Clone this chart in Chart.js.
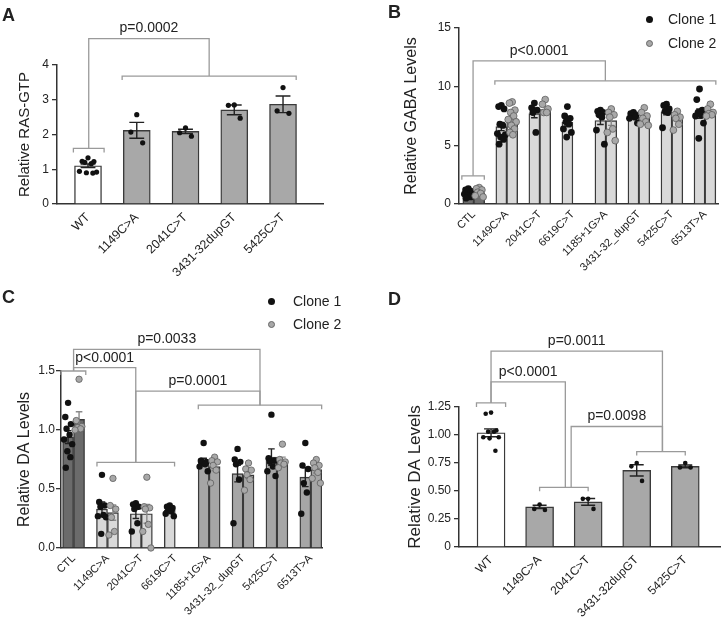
<!DOCTYPE html>
<html>
<head>
<meta charset="utf-8">
<script src="https://cdn.jsdelivr.net/npm/chart.js@4.4.0/dist/chart.umd.min.js"></script>
<style>
  html, body { margin: 0; padding: 0; background: #fff; }
  body { width: 723px; height: 623px; position: relative; overflow: hidden;
         font-family: "Liberation Sans", Arial, sans-serif; color: #222; }
  canvas { position: absolute; }
  .letter { position: absolute; font-weight: bold; font-size: 18px; line-height: 1; }
  .lg { position: absolute; height: 14px; display: flex; align-items: center; font-size: 14px; }
  .dot { width: 7px; height: 7px; border-radius: 50%; box-sizing: border-box; }
</style>
</head>
<body>
<canvas id="cA" width="362" height="300" style="left:0;top:0"></canvas>
<canvas id="cB" width="361" height="300" style="left:362px;top:0"></canvas>
<canvas id="cC" width="362" height="323" style="left:0;top:300px"></canvas>
<canvas id="cD" width="361" height="323" style="left:362px;top:300px"></canvas>

<div class="letter" style="left:2px;top:6px">A</div>
<div class="letter" style="left:388px;top:3px">B</div>
<div class="letter" style="left:2px;top:288px">C</div>
<div class="letter" style="left:388px;top:290px">D</div>

<div class="lg" style="left:646px;top:12px"><span class="dot" style="background:#111"></span><span style="margin-left:15px">Clone 1</span></div>
<div class="lg" style="left:646px;top:36px"><span class="dot" style="background:#a8a8a8;border:1px solid #666"></span><span style="margin-left:15px">Clone 2</span></div>
<div class="lg" style="left:268px;top:294px"><span class="dot" style="background:#111"></span><span style="margin-left:18px">Clone 1</span></div>
<div class="lg" style="left:268px;top:317px"><span class="dot" style="background:#a8a8a8;border:1px solid #666"></span><span style="margin-left:18px">Clone 2</span></div>

<script>
// ---- data ----

// A: RAS-GTP
const catsA = ['WT', '1149C>A', '2041C>T', '3431-32dupGT', '5425C>T'];
const meanA = [1.10, 2.12, 2.09, 2.71, 2.87];
const semA = [0.05, 0.23, 0.06, 0.14, 0.24];
const ptsA = [
  [1.33, 1.23, 1.22, 1.20, 1.16, 0.94, 0.92, 0.90, 0.89],
  [2.57, 2.07, 1.76],
  [2.19, 2.05, 1.95],
  [2.85, 2.84, 2.47],
  [3.35, 2.68, 2.61]
];
const yTicksA = [0, 1, 2, 3, 4];
const yLabelsA = ['0', '1', '2', '3', '4'];

// B: GABA, two clones
const catsB = ['CTL', '1149C>A', '2041C>T', '6619C>T', '1185+1G>A', '3431-32_dupGT', '5425C>T', '6513T>A'];
const meanB1 = [0.90, 6.60, 7.70, 6.95, 7.12, 7.50, 7.85, 7.70];
const semB1 = [0.08, 0.35, 0.35, 0.30, 0.35, 0.12, 0.25, 0.40];
const meanB2 = [0.95, 7.25, 8.05, null, 7.10, 7.40, 7.45, 7.85];
const semB2 = [0.10, 0.30, 0.25, null, 0.40, 0.20, 0.20, 0.15];
const ptsB1 = [
  [1.3, 1.2, 1.1, 1.0, 0.9, 0.85, 0.8, 0.7, 0.6, 0.5],
  [8.4, 8.3, 8.1, 6.8, 6.7, 6.0, 5.9, 5.7, 5.5, 5.1],
  [8.6, 8.2, 8.0, 7.8, 6.1],
  [8.3, 7.5, 7.3, 7.0, 6.8, 6.4, 6.1, 5.7],
  [8.0, 7.9, 7.8, 7.6, 7.4, 6.3, 5.1],
  [7.8, 7.7, 7.6, 7.5, 7.4, 7.3, 6.9],
  [8.5, 8.4, 8.1, 7.9, 7.8, 6.5],
  [9.8, 8.9, 8.0, 7.8, 7.6, 7.5, 6.9, 5.6]
];
const ptsB2 = [
  [1.4, 1.3, 1.2, 1.0, 0.9, 0.7, 0.6],
  [8.7, 8.6, 8.0, 7.8, 7.5, 7.2, 7.0, 6.7, 6.4, 6.1, 5.9],
  [8.9, 8.5, 8.1, 7.8, 7.8],
  [],
  [8.1, 7.8, 7.6, 7.4, 6.4, 6.1, 5.4],
  [8.2, 7.8, 7.5, 7.3, 7.0, 6.8, 6.7],
  [7.9, 7.6, 7.4, 7.3, 6.8, 6.3],
  [8.5, 8.1, 7.8, 7.7, 7.6, 7.5]
];
const yTicksB = [0, 5, 10, 15];
const yLabelsB = ['0', '5', '10', '15'];

// C: DA, two clones
const catsC = ['CTL', '1149C>A', '2041C>T', '6619C>T', '1185+1G>A', '3431-32_dupGT', '5425C>T', '6513T>A'];
const meanC1 = [0.94, 0.33, 0.29, 0.32, 0.735, 0.63, 0.77, 0.60];
const semC1 = [0.055, 0.06, 0.04, 0.015, 0.025, 0.07, 0.07, 0.08];
const meanC2 = [1.09, 0.30, 0.29, null, 0.69, 0.62, 0.745, 0.665];
const semC2 = [0.065, 0.065, 0.08, null, 0.035, 0.03, 0.025, 0.03];
const ptsC1 = [
  [1.23, 1.11, 1.05, 1.01, 0.96, 0.92, 0.88, 0.82, 0.77, 0.68],
  [0.62, 0.39, 0.36, 0.35, 0.28, 0.27, 0.26, 0.12],
  [0.38, 0.37, 0.35, 0.33, 0.21, 0.14],
  [0.36, 0.35, 0.34, 0.32, 0.31, 0.29, 0.27],
  [0.89, 0.74, 0.73, 0.72, 0.71, 0.69, 0.65],
  [0.84, 0.75, 0.73, 0.71, 0.58, 0.21],
  [1.13, 0.76, 0.74, 0.73, 0.69, 0.65, 0.61],
  [0.89, 0.70, 0.67, 0.55, 0.47, 0.29]
];
const ptsC2 = [
  [1.43, 1.08, 1.03, 1.02, 1.01, 1.00],
  [0.59, 0.36, 0.33, 0.26, 0.14, 0.11],
  [0.60, 0.35, 0.34, 0.33, 0.20, 0.14, 0.00],
  [],
  [0.77, 0.74, 0.73, 0.70, 0.66, 0.55],
  [0.72, 0.67, 0.66, 0.62, 0.58, 0.49],
  [0.88, 0.75, 0.73, 0.72, 0.71, 0.68],
  [0.75, 0.72, 0.70, 0.68, 0.64, 0.59, 0.55]
];
const yTicksC = [0, 0.5, 1.0, 1.5];
const yLabelsC = ['0.0', '0.5', '1.0', '1.5'];

// D: DA
const catsD = ['WT', '1149C>A', '2041C>T', '3431-32dupGT', '5425C>T'];
const meanD = [1.02, 0.358, 0.403, 0.684, 0.72];
const semD = [0.035, 0.015, 0.03, 0.05, 0.012];
const ptsD = [
  [1.20, 1.19, 1.04, 1.03, 1.03, 0.98, 0.98, 0.97, 0.86],
  [0.38, 0.34, 0.33],
  [0.43, 0.43, 0.34],
  [0.75, 0.72, 0.59],
  [0.75, 0.71, 0.71]
];
const yTicksD = [0, 0.25, 0.5, 0.75, 1.0, 1.25];
const yLabelsD = ['0', '0.25', '0.50', '0.75', '1.00', '1.25'];

// significance brackets: spans in category units, heights in data units
const groupsA = [{from: -0.3, to: 0.33, y: 1.6}, {from: 0.7, to: 4.27, y: 3.68}];
const linksA = [{x1: 0.015, y1: 1.6, x2: 2.485, y2: 3.68, top: 4.76, label: 'p=0.0002'}];
const groupsB = [{from: -0.36, to: 0.32, y: 2.4}, {from: 0.64, to: 7.33, y: 10.5}];
const linksB = [{x1: -0.02, y1: 2.4, x2: 3.985, y2: 10.5, top: 12.2, label: 'p<0.0001'}];
const groupsC = [{from: -0.37, to: 0.36, y: 1.5}, {from: 0.69, to: 2.98, y: 0.725}, {from: 3.68, to: 7.32, y: 1.21}];
const linksC = [
  {x1: 0, y1: 1.5, x2: 1.835, y2: 0.725, top: 1.528, label: 'p<0.0001'},
  {x1: 0, y1: 1.5, x2: 5.5, y2: 1.21, top: 1.684, label: 'p=0.0033'},
  {x1: 1.835, y1: 0.725, x2: 5.5, y2: 1.21, top: 1.33, label: 'p=0.0001'}
];
const groupsD = [{from: -0.3, to: 0.3, y: 1.286}, {from: 1, to: 2, y: 0.533}, {from: 3, to: 4, y: 0.852}];
const linksD = [
  {x1: 0, y1: 1.286, x2: 3.53, y2: 0.852, top: 1.749, label: 'p=0.0011'},
  {x1: 0, y1: 1.286, x2: 1.53, y2: 0.533, top: 1.474, label: 'p<0.0001'},
  {x1: 1.65, y1: 0.533, x2: 3.53, y2: 0.852, top: 1.076, label: 'p=0.0098'}
];

// ---- drawing ----

Chart.defaults.font.family = "'Liberation Sans', Arial, sans-serif";
Chart.defaults.color = '#222';

const JIT = [0, -0.55, 0.55, -0.3, 0.3, -0.8, 0.8, -0.15, 0.45, -0.45, 0.15];

function barData(means, sems, off) {
  const out = [];
  means.forEach((m, g) => { if (m != null) out.push({x: g + off, y: m, sem: sems[g], g: g}); });
  return out;
}

function swarm(groups, off, half) {
  const out = [];
  groups.forEach((vals, g) => vals.forEach((v, k) => out.push({x: g + off + JIT[k % JIT.length] * half, y: v})));
  return out;
}

const bracketPlugin = {
  id: 'brackets',
  afterDatasetDraw(chart, args) {
    const ds = chart.data.datasets[args.index];
    if (ds.type !== 'bar') return;
    const ctx = chart.ctx, ys = chart.scales.y;
    ctx.save();
    ctx.strokeStyle = ds.errColor;
    ctx.lineWidth = 1.4;
    args.meta.data.forEach((bar, i) => {
      const r = ds.data[i];
      if (!r.sem) return;
      const t = ys.getPixelForValue(r.y + r.sem), b = ys.getPixelForValue(r.y - r.sem);
      const hw = bar.width * ds.capRatio / 2;
      ctx.beginPath();
      ctx.moveTo(bar.x, t); ctx.lineTo(bar.x, b);
      ctx.moveTo(bar.x - hw, t); ctx.lineTo(bar.x + hw, t);
      ctx.moveTo(bar.x - hw, b); ctx.lineTo(bar.x + hw, b);
      ctx.stroke();
    });
    ctx.restore();
  },
  afterDraw(chart, args, opts) {
    const ctx = chart.ctx, xs = chart.scales.x, ys = chart.scales.y;
    ctx.save();
    ctx.strokeStyle = '#9a9a9a';
    ctx.lineWidth = 1.3;
    (opts.groups || []).forEach(gr => {
      const a = xs.getPixelForValue(gr.from), b = xs.getPixelForValue(gr.to), y = ys.getPixelForValue(gr.y);
      ctx.beginPath();
      ctx.moveTo(a, y + 4); ctx.lineTo(a, y); ctx.lineTo(b, y); ctx.lineTo(b, y + 4);
      ctx.stroke();
    });
    ctx.font = '14px "Liberation Sans", Arial, sans-serif';
    ctx.fillStyle = '#222';
    ctx.textAlign = 'center';
    ctx.textBaseline = 'middle';
    (opts.links || []).forEach(l => {
      const a = xs.getPixelForValue(l.x1), b = xs.getPixelForValue(l.x2), t = ys.getPixelForValue(l.top);
      ctx.beginPath();
      ctx.moveTo(a, ys.getPixelForValue(l.y1)); ctx.lineTo(a, t);
      ctx.lineTo(b, t); ctx.lineTo(b, ys.getPixelForValue(l.y2));
      ctx.stroke();
      ctx.fillText(l.label, (a + b) / 2, t - 10);
    });
    ctx.restore();
  }
};

function makePanel(id, p) {
  const datasets = [];
  p.bars.forEach(b => datasets.push({
    type: 'bar', data: b.data, order: 2,
    backgroundColor: c => p.fill(c.raw.g),
    borderColor: '#3a3a3a', borderWidth: 1.4,
    barThickness: p.barW, grouped: false,
    errColor: b.errColor, capRatio: p.cap
  }));
  p.points.forEach(s => datasets.push({
    type: 'scatter', data: s.data, order: 1, clip: false,
    backgroundColor: s.fill, borderColor: s.stroke, borderWidth: s.bw,
    pointRadius: p.r, pointHoverRadius: p.r
  }));
  return new Chart(document.getElementById(id), {
    type: 'bar',
    data: {datasets},
    options: {
      responsive: false, animation: false, events: [],
      layout: {padding: {left: 0, top: p.top, right: p.right, bottom: 0}},
      plugins: {legend: {display: false}, tooltip: {enabled: false},
                brackets: {groups: p.groups, links: p.links}},
      scales: {
        x: {
          type: 'linear', min: p.xMin, max: p.xMax, offset: false,
          afterFit: s => { s.height = p.xH; },
          afterBuildTicks: s => { s.ticks = p.cats.map((c, i) => ({value: i})); },
          grid: {display: false, drawTicks: false, offset: false},
          border: {display: true, color: '#333', width: 1.5},
          ticks: {autoSkip: false, minRotation: 45, maxRotation: 45, padding: p.xPad,
                  color: '#222', font: {size: p.xFont}, callback: v => p.cats[v]}
        },
        y: {
          min: 0, max: p.yMax,
          afterFit: s => { s.width = p.yW; },
          afterBuildTicks: s => { s.ticks = p.yTicks.map(v => ({value: v})); },
          grid: {drawOnChartArea: false, drawTicks: true, tickLength: 5, color: '#333', lineWidth: 1.3},
          border: {display: true, color: '#333', width: 1.5},
          ticks: {padding: p.yPad, color: '#222', font: {size: p.yFont}, callback: (v, i) => p.yLabels[i]},
          title: {display: true, text: p.title, color: '#222', font: {size: p.titleSize},
                  padding: {top: p.titlePad, bottom: 0}}
        }
      }
    },
    plugins: [bracketPlugin]
  });
}

// A
makePanel('cA', {
  cats: catsA, xMin: -0.636, xMax: 4.82, yMax: 4, yTicks: yTicksA, yLabels: yLabelsA,
  top: 65, right: 39, xH: 96, yW: 57, barW: 27, cap: 0.55, r: 2.6,
  xFont: 12.5, yFont: 12, xPad: 6, yPad: 3,
  title: 'Relative RAS-GTP', titleSize: 15, titlePad: 16,
  fill: g => g === 0 ? '#ffffff' : '#a8a8a8',
  bars: [{data: barData(meanA, semA, 0), errColor: '#222'}],
  points: [{data: swarm(ptsA, 0, 0.22), fill: '#111', stroke: '#111', bw: 0}],
  groups: groupsA, links: linksA
});

// B
makePanel('cB', {
  cats: catsB, xMin: -0.446, xMax: 7.42, yMax: 15, yTicks: yTicksB, yLabels: yLabelsB,
  top: 28, right: 0, xH: 96, yW: 97, barW: 11, cap: 0.6, r: 3.4,
  xFont: 11, yFont: 12, xPad: 4, yPad: 3,
  title: 'Relative GABA Levels', titleSize: 16, titlePad: 40,
  fill: g => g === 0 ? '#6e6e6e' : '#d9d9d9',
  bars: [{data: barData(meanB1, semB1, -0.164), errColor: '#222'},
         {data: barData(meanB2, semB2, 0.164), errColor: '#888'}],
  points: [{data: swarm(ptsB2, 0.164, 0.15), fill: '#a8a8a8', stroke: '#5e5e5e', bw: 0.8},
           {data: swarm(ptsB1, -0.164, 0.15), fill: '#111', stroke: '#111', bw: 0}],
  groups: groupsB, links: linksB
});

// C
makePanel('cC', {
  cats: catsC, xMin: -0.371, xMax: 7.33, yMax: 1.5, yTicks: yTicksC, yLabels: yLabelsC,
  top: 71, right: 40, xH: 75, yW: 61, barW: 11, cap: 0.6, r: 3.2,
  xFont: 11, yFont: 12, xPad: 4, yPad: 1,
  title: 'Relative DA Levels', titleSize: 16, titlePad: 15,
  fill: g => g === 0 ? '#6b6b6b' : (g <= 3 ? '#d9d9d9' : '#a6a6a6'),
  bars: [{data: barData(meanC1, semC1, -0.162), errColor: '#222'},
         {data: barData(meanC2, semC2, 0.162), errColor: '#8a8a8a'}],
  points: [{data: swarm(ptsC2, 0.162, 0.15), fill: '#a8a8a8', stroke: '#5e5e5e', bw: 0.8},
           {data: swarm(ptsC1, -0.162, 0.15), fill: '#111', stroke: '#111', bw: 0}],
  groups: groupsC, links: linksC
});

// D
makePanel('cD', {
  cats: catsD, xMin: -0.66, xMax: 4.73, yMax: 1.25, yTicks: yTicksD, yLabels: yLabelsD,
  top: 107, right: 0, xH: 76, yW: 97, barW: 28, cap: 0.5, r: 2.3,
  xFont: 12, yFont: 12, xPad: 6, yPad: 3,
  title: 'Relative DA Levels', titleSize: 17, titlePad: 43,
  fill: g => g === 0 ? '#ffffff' : '#a8a8a8',
  bars: [{data: barData(meanD, semD, 0), errColor: '#222'}],
  points: [{data: swarm(ptsD, 0, 0.2), fill: '#111', stroke: '#111', bw: 0}],
  groups: groupsD, links: linksD
});
</script>
</body>
</html>
